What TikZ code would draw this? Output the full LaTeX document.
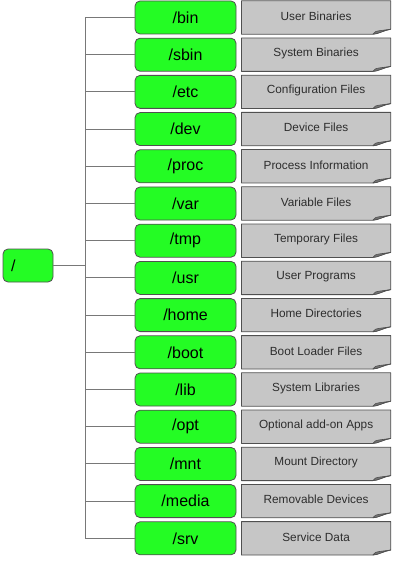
\documentclass[tikz,border=0pt]{standalone}
\usepackage{fontspec}
\setmainfont{Liberation Sans}
\usepackage{tikz}
\usetikzlibrary{positioning, calc}
\definecolor{fsgreen}{RGB}{36,252,36}
\definecolor{fsgray}{RGB}{198,198,198}
\definecolor{fsedge}{RGB}{80,80,80}
\definecolor{fstext}{RGB}{45,45,45}
\definecolor{fsline}{RGB}{120,120,120}

\begin{document}
\begin{tikzpicture}[
  x=1pt, y=-1pt,
  dir/.style={rectangle, rounded corners=5pt, draw=fsedge, fill=fsgreen,
              line width=0.8pt, text=black, font=\fontsize{16}{18}\selectfont,
              minimum width=101pt, minimum height=33pt, inner sep=0pt},
  desc/.style={rectangle, text=fstext, font=\fontsize{11.8}{14}\selectfont,
               minimum width=149pt, minimum height=33pt, inner sep=0pt},
  sheet/.style={draw=fsedge, fill=fsgray, line width=0.8pt, line join=round},
  curl/.style={draw=fsedge, fill=fsedge!80, line width=0.6pt},
  link/.style={draw=fsline, line width=0.9pt},
]
\useasboundingbox (0,0) rectangle (393,561);

% ── root ──
\node[dir, minimum width=50pt, text width=34pt, inner xsep=8pt, align=left]
  (root) at (28,265.5) {/};
\coordinate (trunk) at (85,265.5);

% ── directory column ──
\foreach \n/\desc [count=\i from 0] in {
    bin/User Binaries, sbin/System Binaries, etc/Configuration Files,
    dev/Device Files, proc/Process Information, var/Variable Files,
    tmp/Temporary Files, usr/User Programs, home/Home Directories,
    boot/Boot Loader Files, lib/System Libraries, opt/Optional add-on Apps,
    mnt/Mount Directory, media/Removable Devices, srv/Service Data}
{
  \node[dir] (d\n) at (185.5,17.5+37.2*\i) {/\n};
  \node[desc, right=5pt of d\n] (i\n) {};
  \draw[sheet] (i\n.north west) -- (i\n.north east)
    -- ([yshift=5pt]i\n.south east)
    .. controls ([xshift=-7pt,yshift=4pt]i\n.south east)
       and ([xshift=-13pt]i\n.south east) .. ([xshift=-18pt]i\n.south east)
    -- (i\n.south west) -- cycle;
  \draw[curl] ([xshift=-18pt]i\n.south east)
    .. controls ([xshift=-15pt,yshift=3pt]i\n.south east) .. ([xshift=-12pt,yshift=3.4pt]i\n.south east)
    -- ([yshift=5pt]i\n.south east)
    .. controls ([xshift=-7pt,yshift=4pt]i\n.south east)
       and ([xshift=-13pt]i\n.south east) .. ([xshift=-18pt]i\n.south east);
  \node[desc, text=fstext] at ([yshift=1.5pt]i\n.center) {\desc};
  \draw[link] (d\n.west -| trunk) -- (d\n.west);
}

% ── tree lines ──
\draw[link] (root) -- (trunk);
\draw[link] (dbin.west -| trunk) -- (dsrv.west -| trunk);

\end{tikzpicture}
\end{document}
